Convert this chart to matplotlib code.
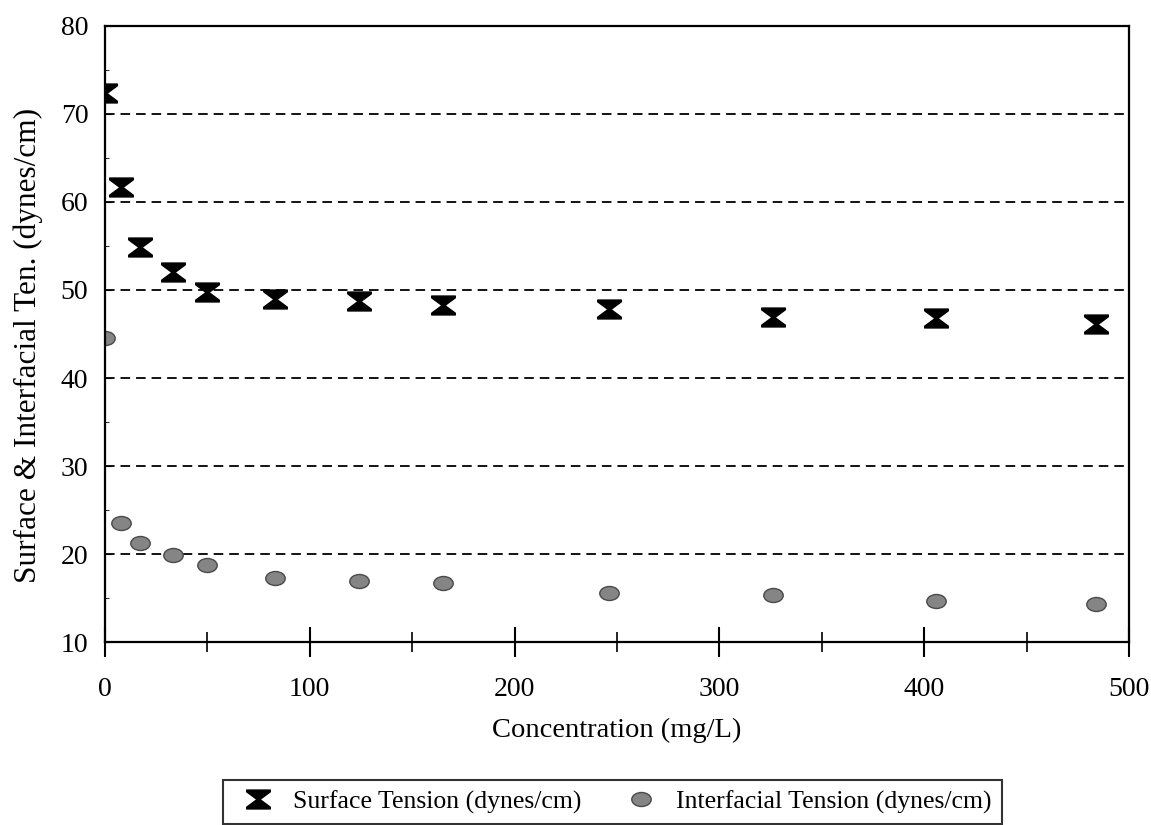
import matplotlib
matplotlib.use('Agg')
import matplotlib.pyplot as plt
import numpy as np
from matplotlib.path import Path
from matplotlib.ticker import MultipleLocator

# concentration (mg/L)
conc = [0, 8, 17, 33, 50, 83, 124, 165, 246, 326, 406, 484]
# tensions (dynes/cm)
surface = [72.4, 61.7, 54.9, 52.0, 49.8, 49.0, 48.8, 48.3, 47.8, 46.9, 46.8, 46.1]
interfacial = [44.6, 23.5, 21.2, 19.9, 18.7, 17.3, 16.9, 16.7, 15.6, 15.3, 14.7, 14.3]

plt.rcParams['font.family'] = ['Liberation Serif', 'DejaVu Serif']

# hourglass marker and flat ellipse marker
hourglass = Path([(-1, 0.8), (1, 0.8), (1, 0.65), (0.12, 0), (1, -0.65), (1, -0.8),
                  (-1, -0.8), (-1, -0.65), (-0.12, 0), (-1, 0.65), (-1, 0.8)],
                 [Path.MOVETO] + [Path.LINETO] * 9 + [Path.CLOSEPOLY])
circ = Path.unit_circle()
ellipse = Path(circ.vertices * np.array([1.0, 0.72]), circ.codes)

fig = plt.figure(figsize=(11.51, 8.25), dpi=100)
ax = fig.add_axes([0.0912, 0.2218, 0.8897, 0.7467])

ax.plot(conc, surface, linestyle='none', marker=hourglass, markersize=17,
        color='black', label='Surface Tension (dynes/cm)')
ax.plot(conc, interfacial, linestyle='none', marker=ellipse, markersize=14,
        markerfacecolor='#858585', markeredgecolor='#4a4a4a', markeredgewidth=1,
        label='Interfacial Tension (dynes/cm)')

ax.set_xlim(0, 500)
ax.set_ylim(10, 80)
ax.xaxis.set_major_locator(MultipleLocator(100))
ax.xaxis.set_minor_locator(MultipleLocator(50))
ax.yaxis.set_major_locator(MultipleLocator(10))
ax.yaxis.set_minor_locator(MultipleLocator(5))
ax.tick_params(axis='x', which='major', direction='inout', length=22, width=1.5, labelsize=20, pad=14)
ax.tick_params(axis='x', which='minor', direction='inout', length=14, width=1.2)
ax.tick_params(axis='y', which='major', direction='in', length=4, labelsize=20, pad=12)
ax.tick_params(axis='y', which='minor', direction='in', length=3)

for y in range(20, 80, 10):
    ax.axhline(y, color='black', linestyle=(0, (5.3, 3.3)), linewidth=1.3, zorder=0)

for s in ax.spines.values():
    s.set_linewidth(1.6)

ax.set_xlabel('Concentration (mg/L)', fontsize=20.5)
ax.xaxis.set_label_coords(0.5, -0.123)
ax.set_ylabel('Surface & Interfacial Ten. (dynes/cm)', fontsize=22.5)
ax.yaxis.set_label_coords(-0.061, 0.481)

leg = fig.legend(loc='upper left', bbox_to_anchor=(0.1937, 0.0545), ncol=2,
                 fontsize=18.5, frameon=True, fancybox=False, edgecolor='black',
                 borderaxespad=0, borderpad=0.4, columnspacing=1.36,
                 handletextpad=0.4, handlelength=1.92)
leg.get_frame().set_linewidth(1.5)

fig.savefig('out.png', dpi=100)
